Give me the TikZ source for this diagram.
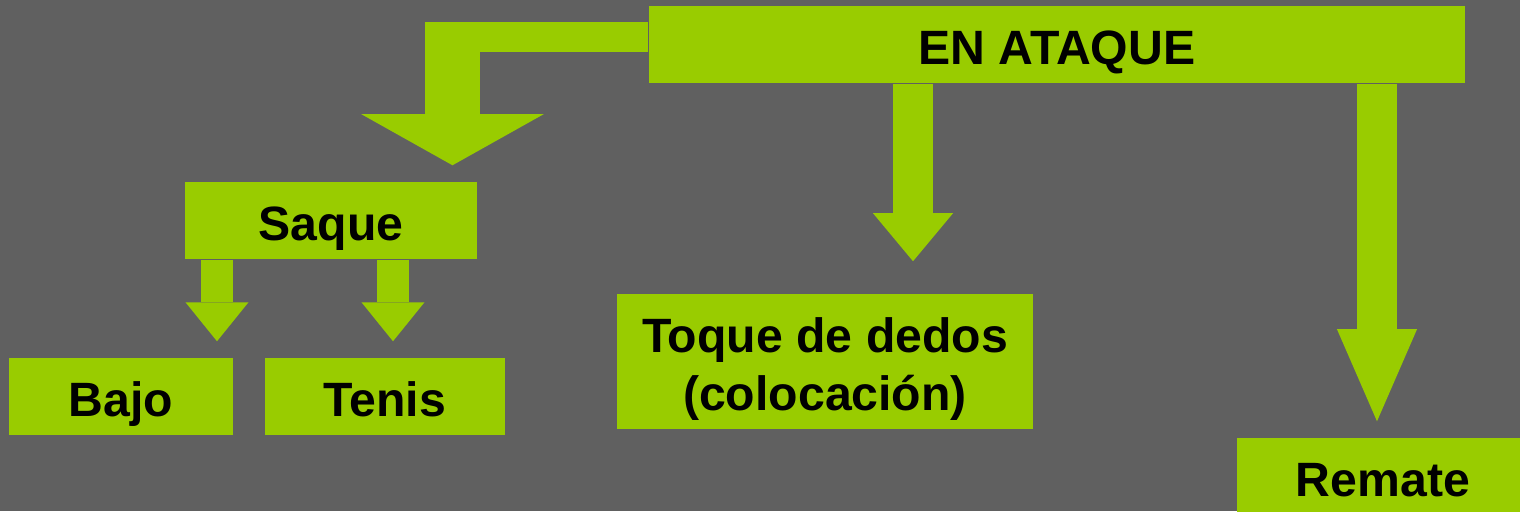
\documentclass[tikz,border=0pt]{standalone}
\usepackage{fontspec}
\setmainfont{Liberation Sans}
\usetikzlibrary{arrows.meta}
\definecolor{hoja}{HTML}{99CC00}
\definecolor{fondo}{HTML}{606060}
\begin{document}
\begin{tikzpicture}[x=0.01cm,y=-0.01cm,
        caja/.style={fill=hoja,inner sep=0pt,text height=0.58cm,text depth=0.19cm,align=center,font=\fontsize{13.7}{16.45}\selectfont\bfseries},
        barra/.style={draw=hoja,line width=#1},
        punta/.style n args={2}{-{Triangle[width=#1,length=#2,line width=0pt]}}]
        \fill[fondo] (0,0) rectangle (1520,511);
        \clip (0,0) rectangle (1520,511);
        \node[caja,minimum width=8.16cm] (ataque) at (1057,44.5) {EN ATAQUE};
        \node[caja,minimum width=2.92cm] (saque) at (331,220.5) {Saque};
        \node[caja,minimum width=2.24cm] (bajo) at (121,396.5) {Bajo};
        \node[caja,minimum width=2.40cm] (tenis) at (385,396.5) {Tenis};
        \node[caja,minimum width=4.16cm,text height=1.16cm,text depth=0.19cm] (toque) at (825,361.5) {Toque de dedos\\(colocación)};
        \node[caja,minimum width=2.92cm] (remate) at (1383,476.5) {Remate};
        \coordinate (codo) at (452.5,37);
        \draw[barra=.3cm] (codo) ++(-27.5,0) -- (codo -| ataque.west);
        \draw[barra=.55cm,punta={1.82cm}{0.51cm},shorten >=.16cm] (codo) ++(0,-15) -- (codo |- saque.north);
        \draw[barra=.4cm,punta={0.8cm}{0.48cm},shorten >=.32cm] (913,0 |- ataque.south) -- (913,0 |- toque.north);
        \draw[barra=.4cm,punta={0.8cm}{0.92cm},shorten >=.16cm] (1377,0 |- ataque.south) -- (1377,0 |- remate.north);
        \draw[barra=.32cm,punta={0.63cm}{0.39cm},shorten >=.16cm] (217,0 |- saque.south) -- (217,0 |- bajo.north);
        \draw[barra=.32cm,punta={0.63cm}{0.39cm},shorten >=.16cm] (393,0 |- saque.south) -- (393,0 |- tenis.north);
\end{tikzpicture}
\end{document}
